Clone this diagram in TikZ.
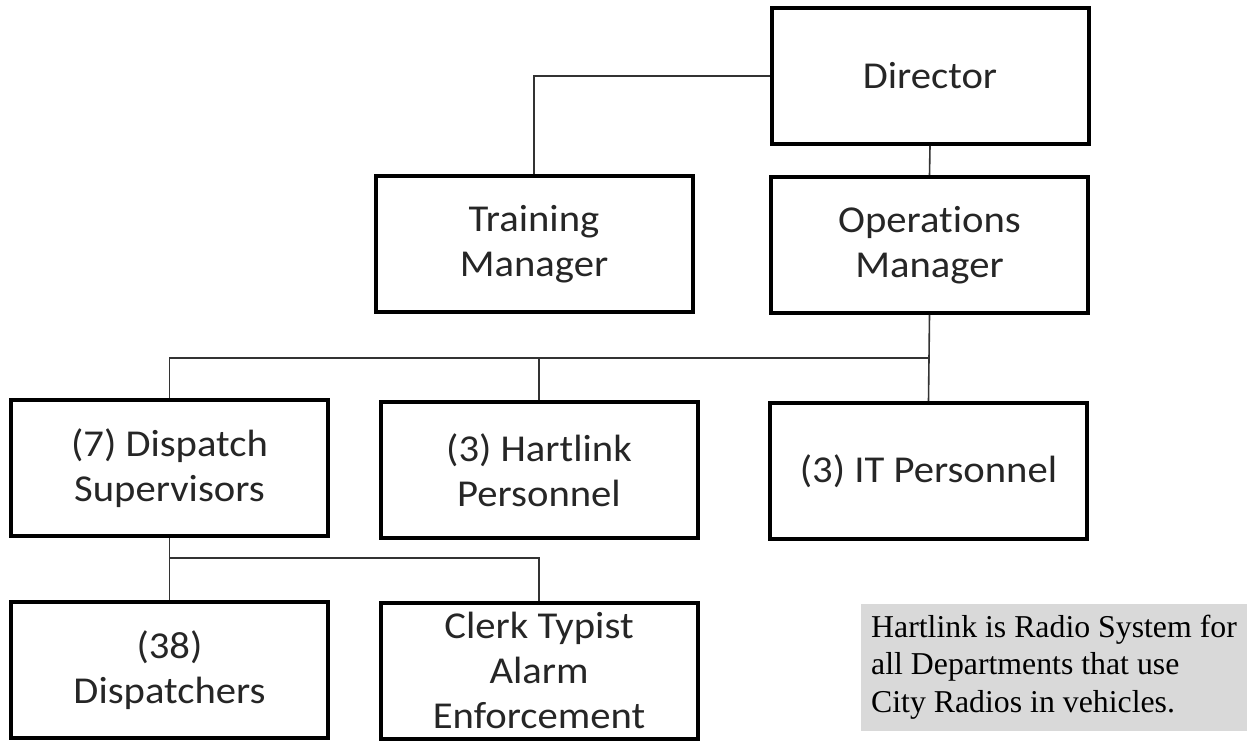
\documentclass[tikz,border=0pt]{standalone}
\usepackage{fontspec}
\usepackage{xcolor}
\newfontfamily\boxfont[FakeStretch=1.07, Ligatures=NoCommon]{Carlito}
\newfontfamily\notefont{Liberation Serif}
\definecolor{notegray}{HTML}{D9D9D9}

\begin{document}
\begin{tikzpicture}[x=0.5pt, y=-0.5pt,
    box/.style={draw=black, line width=2pt, minimum width=158.5pt, minimum height=68pt,
                inner sep=0pt, align=center, text=black!85,
                font=\boxfont\fontsize{19pt}{22.5pt}\selectfont},
    note/.style={fill=notegray, minimum width=193pt, minimum height=63.5pt, inner sep=0pt,
                 align=left, font=\notefont\fontsize{15.9pt}{18.65pt}\selectfont},
    link/.style={line width=0.8pt, black!80}]
%\draw[step=50,gray,very thin] (0,0) grid (1247,742); %background grid
\useasboundingbox (0,0) rectangle (1247,742);

\node[box] (director)    at (930,76)      {Director};
\node[box] (training)    at (534,244)     {Training\\Manager};
\node[box] (operations)  at (929.5,245)   {Operations\\Manager};

\node[box] (dispatch)    at (169.5,468.5) {(7) Dispatch\\Supervisors};
\node[box] (hartlink)    at (539,470.5)   {(3) Hartlink\\Personnel};
\node[box] (itstaff)     at (928.5,471)   {(3) IT Personnel};

\node[box] (dispatchers) at (169.5,670)   {(38)\\Dispatchers};
\node[box] (clerk)       at (539,670.5)   {Clerk Typist\\Alarm\\Enforcement};

\node[note] (hartnote)   at (1054,667)    {Hartlink is Radio System for\\all Departments that use\\City Radios in vehicles.};

\coordinate (barone) at (0,358);
\coordinate (bartwo) at (0,558);

\draw[link] (director.west) -| (training.north);
\draw[link] (director.south) -- (operations.north);

\draw[link] (operations.south) -- (itstaff.north);
\draw[link] (dispatch.north) |- (barone -| itstaff.north);
\draw[link] (hartlink.north) -- (hartlink.north |- barone);

\draw[link] (dispatch.south) -- (dispatchers.north);
\draw[link] (clerk.north) |- (bartwo -| dispatch.south);

\end{tikzpicture}
\end{document}
